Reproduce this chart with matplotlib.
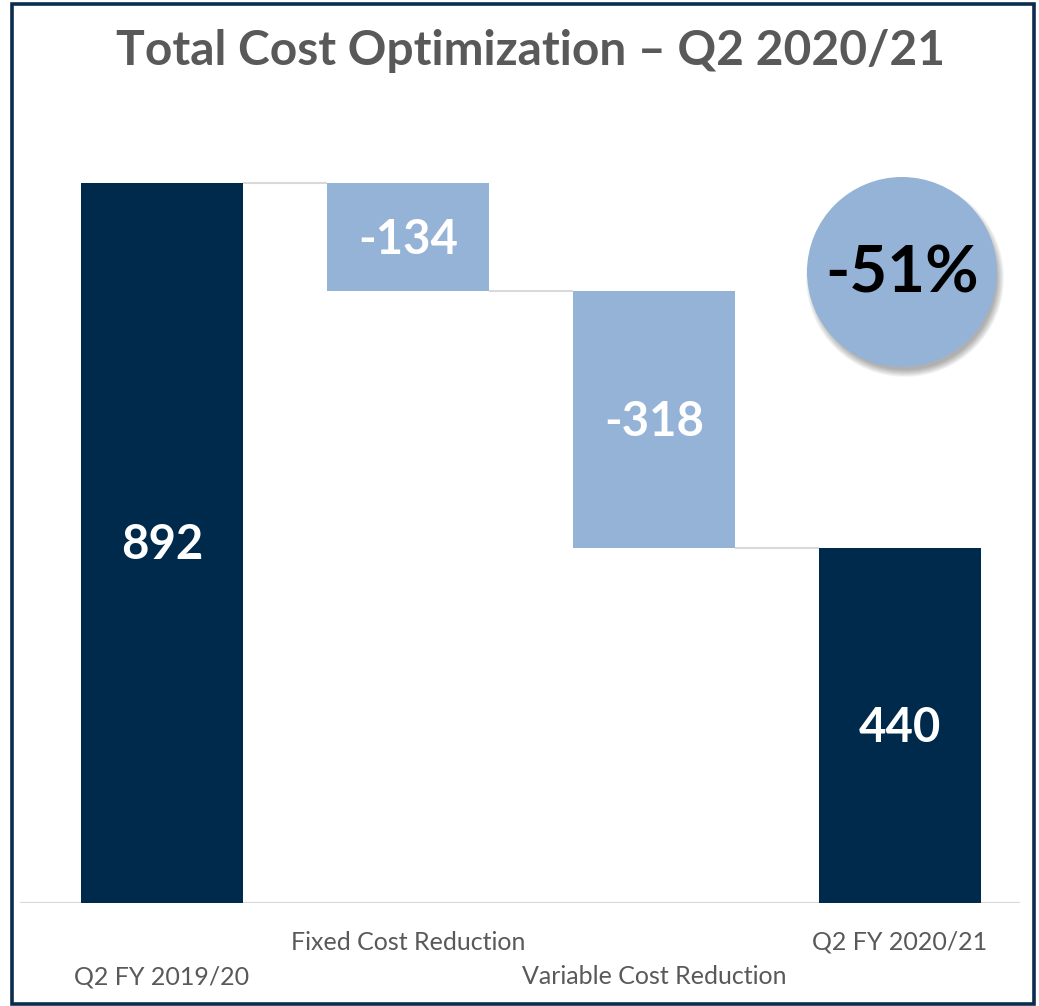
import matplotlib.pyplot as plt
from matplotlib.patches import Circle, Rectangle

# Waterfall data
categories = ['Q2 FY 2019/20', 'Fixed Cost Reduction', 'Variable Cost Reduction', 'Q2 FY 2020/21']
values = [892, -134, -318, 440]
is_total = [True, False, False, True]

title = 'Total Cost Optimization \u2013 Q2 2020/21'

dark = '#002a4b'
light = '#95b3d7'
grey_text = '#595959'
grid_grey = '#d9d9d9'

plt.rcParams['font.family'] = ['Lato', 'DejaVu Sans']

W, H = 1039, 1006
fig = plt.figure(figsize=(W / 100, H / 100), dpi=100)

# Main chart area: baseline at y=903 px, 0.807 px per unit
px_per_unit = 720 / 892
ax_left, ax_right, base_y, top_y = 20, 1020, 903, 100
ax = fig.add_axes([ax_left / W, (H - base_y) / H, (ax_right - ax_left) / W, (base_y - top_y) / H])
ax.set_ylim(0, (base_y - top_y) / px_per_unit)
step = 246
ax.set_xlim((ax_left - 162) / step, (ax_right - 162) / step)
ax.axis('off')

width = 0.66
running = 0
bottoms, heights = [], []
for v, tot in zip(values, is_total):
    if tot:
        bottoms.append(0)
        heights.append(v)
        running = v
    else:
        new = running + v
        bottoms.append(min(running, new))
        heights.append(abs(v))
        running = new

xs = list(range(len(values)))
colors = [dark if t else light for t in is_total]
ax.bar(xs, heights, bottom=bottoms, width=width, color=colors, zorder=3)

# Connector lines between bars
level = 0
for i, (v, tot) in enumerate(zip(values, is_total)):
    level = v if tot else level + v
    if i < len(values) - 1:
        ax.plot([i + width / 2, i + 1 - width / 2], [level, level],
                color=grid_grey, lw=1.5, zorder=2, solid_capstyle='butt')

# Baseline
ax.axhline(0, color=grid_grey, lw=1.6, zorder=1)

# Value labels
for x, b, h, v in zip(xs, bottoms, heights, values):
    ax.text(x, b + h / 2 - 3, f'{v}', ha='center', va='center', color='white',
            fontsize=34, fontweight='bold', zorder=4)

# Category labels, staggered on two rows
for x, name in zip(xs, categories):
    y_px = 977 if x % 2 == 0 else 942
    ax.text(x, -(y_px - base_y) / px_per_unit, name, ha='center', va='center',
            color=grey_text, fontsize=18, clip_on=False)

# Overlay in pixel coordinates for frame, title and badge
ov = fig.add_axes([0, 0, 1, 1], facecolor='none')
ov.set_xlim(0, W)
ov.set_ylim(H, 0)
ov.axis('off')

ov.add_patch(Rectangle((12, 4), 1022, 1000, fill=False, edgecolor='#0b2c4d', lw=2.6))
ov.text(531, 65, title, ha='center', va='baseline', color=grey_text,
        fontsize=34.5, fontweight='bold')

# Percentage change badge with soft shadow
cx, cy, r = 902, 272, 95
for k in range(8):
    ov.add_patch(Circle((cx + 3, cy + 6), r + 4 - k, color='black', alpha=0.045, lw=0))
ov.add_patch(Circle((cx, cy), r, color=light, lw=0))
change = (values[-1] - values[0]) / values[0] * 100
ov.text(cx, cy + 2, f'{change:.0f}%', ha='center', va='center', color='black',
        fontsize=47, fontweight='bold')

fig.savefig('out.png', dpi=100)
